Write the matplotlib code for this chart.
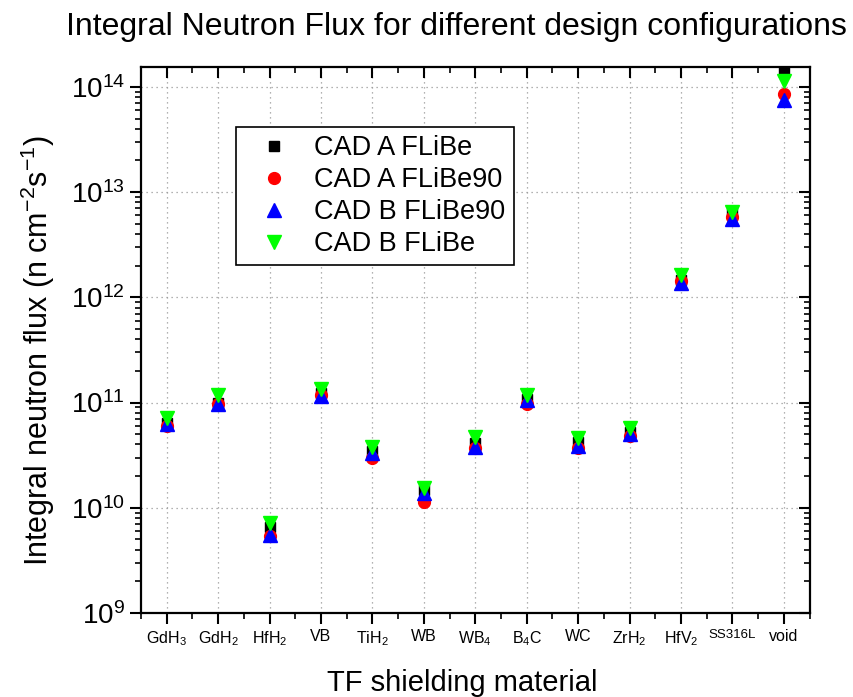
import numpy as np
import matplotlib
matplotlib.use("Agg")
import matplotlib.pyplot as plt
from matplotlib.ticker import MultipleLocator, LogLocator, NullFormatter

plt.rcParams['font.family'] = ['Liberation Sans', 'DejaVu Sans']
plt.rcParams['mathtext.fontset'] = 'custom'
plt.rcParams['mathtext.rm'] = 'Liberation Sans'
plt.rcParams['mathtext.it'] = 'Liberation Sans:italic'

# shielding materials (x categories)
materials = [r'GdH$_3$', r'GdH$_2$', r'HfH$_2$', 'VB', r'TiH$_2$', 'WB', r'WB$_4$',
             r'B$_4$C', 'WC', r'ZrH$_2$', r'HfV$_2$', 'SS316L', 'void']

# integral neutron flux, n cm^-2 s^-1
cad_a_flibe = [6.4e10, 1.0e11, 6.6e9, 1.22e11, 3.5e10, 1.47e10, 4.1e10,
               1.07e11, 4.2e10, 5.3e10, 1.45e12, 6.4e12, 1.38e14]
cad_a_flibe90 = [6.0e10, 0.96e11, 5.4e9, 1.18e11, 3.0e10, 1.14e10, 3.7e10,
                 0.98e11, 3.67e10, 4.8e10, 1.43e12, 5.8e12, 8.6e13]
cad_b_flibe90 = [6.3e10, 0.98e11, 5.5e9, 1.15e11, 3.3e10, 1.37e10, 3.8e10,
                 1.05e11, 3.9e10, 5.0e10, 1.37e12, 5.6e12, 7.5e13]
cad_b_flibe = [7.1e10, 1.17e11, 7.1e9, 1.36e11, 3.8e10, 1.53e10, 4.7e10,
               1.17e11, 4.56e10, 5.7e10, 1.62e12, 6.5e12, 1.15e14]

x = np.arange(1, len(materials) + 1)

fig = plt.figure(figsize=(8.54, 6.97), dpi=100)
ax = fig.add_axes([0.165, 0.1205, 0.783, 0.7835])

ax.plot(x, cad_a_flibe, 's', color='black', ms=7.5, ls='none', label='CAD A FLiBe')
ax.plot(x, cad_a_flibe90, 'o', color='#ff0000', ms=8.5, ls='none', label='CAD A FLiBe90')
ax.plot(x, cad_b_flibe90, '^', color='#0000ff', ms=10, ls='none', label='CAD B FLiBe90')
ax.plot(x, cad_b_flibe, 'v', color='#00ff00', ms=10, ls='none', label='CAD B FLiBe')

ax.set_yscale('log')
ax.set_ylim(1e9, 1.55e14)
ax.set_xlim(0.5, 13.5)

ax.set_xticks(x)
labels = ax.set_xticklabels(materials, fontsize=11.5)
labels[11].set_fontsize(9.5)
ax.xaxis.set_minor_locator(MultipleLocator(0.5))
ax.yaxis.set_major_locator(LogLocator(base=10, numticks=10))
ax.yaxis.set_minor_locator(LogLocator(base=10, subs=np.arange(2, 10), numticks=20))
ax.yaxis.set_minor_formatter(NullFormatter())
ax.tick_params(axis='y', which='major', labelsize=20)

for sp in ax.spines.values():
    sp.set_linewidth(1.6)
ax.tick_params(which='major', length=8, width=1.5)
ax.tick_params(which='minor', length=4, width=1.2)
ax.tick_params(top=True, right=True, which='both')
ax.tick_params(axis='x', which='both', direction='out')
ax.tick_params(axis='y', which='both', direction='out')
# top and right ticks point inside
for t in ax.xaxis.get_major_ticks() + ax.xaxis.get_minor_ticks():
    t.tick2line.set_marker(matplotlib.lines.TICKDOWN)
for t in ax.yaxis.get_major_ticks() + ax.yaxis.get_minor_ticks():
    t.tick2line.set_marker(matplotlib.lines.TICKLEFT)

ax.grid(True, which='major', ls=(0, (1, 3)), color='#999999', lw=0.9)

ax.set_xlabel('TF shielding material', fontsize=21)
ax.xaxis.set_label_coords(0.48, -0.103)
ax.set_ylabel(r'Integral neutron flux (n cm$^{-2}$s$^{-1}$)', fontsize=22)
ax.yaxis.set_label_coords(-0.126, 0.481)
fig.text(0.535, 0.961, 'Integral Neutron Flux for different design configurations',
         fontsize=23, ha='center', va='center')

leg = ax.legend(loc='upper left', bbox_to_anchor=(0.142, 0.89), fontsize=19.5,
                frameon=True, fancybox=False, edgecolor='black', framealpha=1,
                handletextpad=0.4, labelspacing=0.22, borderpad=0.3,
                handlelength=2.2, borderaxespad=0)
leg.get_frame().set_linewidth(1.2)

fig.savefig('out.png', dpi=100)
